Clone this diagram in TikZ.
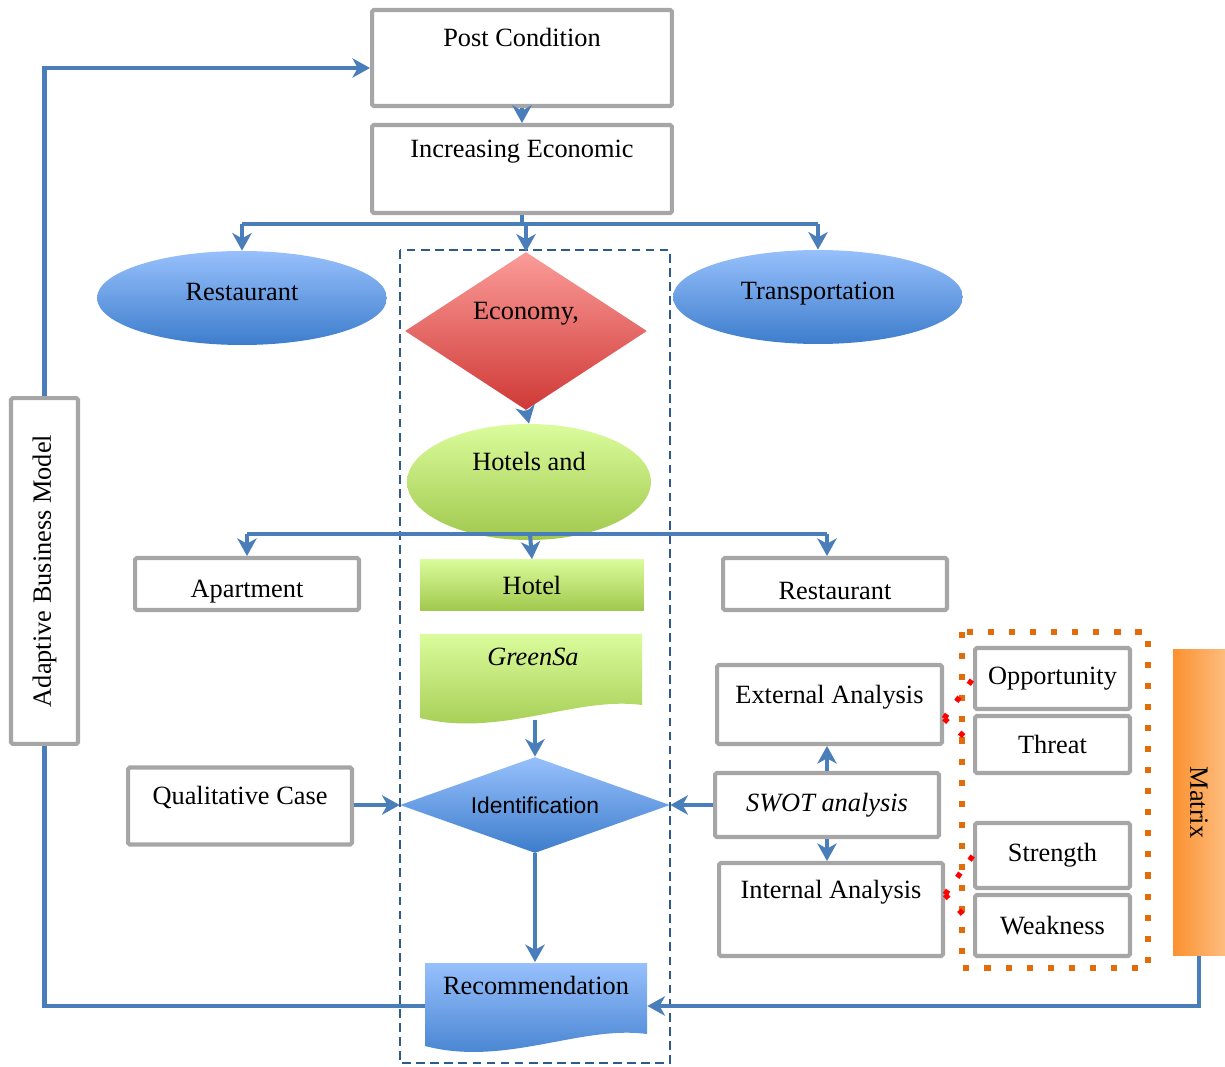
\documentclass[tikz,border=0pt]{standalone}
\usepackage{fontspec}
\setmainfont{Liberation Serif}
\newfontfamily\identfont{Liberation Sans}
\usetikzlibrary{shapes.geometric,arrows.meta}

\definecolor{flowblue}{HTML}{4A7EBB}
\definecolor{boxgrey}{HTML}{A6A6A6}
\definecolor{frameblue}{HTML}{2F5B8C}
\definecolor{dotorange}{HTML}{E36C0A}
\definecolor{bluetop}{HTML}{97C0FC}
\definecolor{bluebot}{HTML}{3D7DCC}
\definecolor{redtop}{HTML}{FB9C99}
\definecolor{redbot}{HTML}{CF3936}
\definecolor{greentop}{HTML}{DBFC9C}
\definecolor{greenbot}{HTML}{A0C84D}
\definecolor{orangeleft}{HTML}{FC9130}
\definecolor{orangeright}{HTML}{FDBC7E}

\tikzset{
  greybox/.style={draw=boxgrey,line width=2.3pt,rounded corners=1pt,fill=white,align=center,inner sep=2pt},
  blueoval/.style={ellipse,top color=bluetop,bottom color=bluebot,inner sep=0pt,align=center},
  greenfill/.style={top color=greentop,bottom color=greenbot},
  bluefill/.style={top color=bluetop,bottom color=bluebot},
  flow/.style={draw=flowblue,line width=2.3pt,-{Stealth[length=10pt,width=11pt,inset=3pt]}},
  link/.style={draw=flowblue,line width=2.3pt},
  swotlink/.style={draw=red,line width=3pt,dash pattern=on 3pt off 9pt},
  uptext/.style={text depth=12pt},
  lowtext/.style={text height=18pt}
}

\begin{document}
\begin{tikzpicture}[x=0.02cm,y=-0.02cm,font=\fontsize{15}{18}\selectfont]
\useasboundingbox (0,0) rectangle (1225,1067);

% top of the chain
\node[greybox,minimum width=6cm,minimum height=1.92cm] (post) at (522,58) {Post Condition\\ \strut};
\node[greybox,minimum width=6cm,minimum height=1.76cm] (inc) at (522,169) {Increasing Economic\\ \strut};

\node[blueoval,text depth=7pt,minimum width=5.8cm,minimum height=1.88cm] (rest1) at (242,298) {Restaurant};
\node[blueoval,text depth=7pt,minimum width=5.8cm,minimum height=1.88cm] (trans) at (818,297) {Transportation};
\node[diamond,top color=redtop,bottom color=redbot,aspect=1.53,inner sep=0pt,
      minimum width=4.84cm,minimum height=3.16cm,align=center] (econ) at (526,331) {Economy,\\ \strut};
\node[ellipse,greenfill,minimum width=4.88cm,minimum height=2.32cm,inner sep=0pt,align=center] (hotels) at (529,482) {Hotels and\\ \strut};

% second row
\node[greybox,lowtext,minimum width=4.48cm,minimum height=1.04cm] (apt) at (247,584) {Apartment};
\node[greenfill,minimum width=4.48cm,minimum height=1.02cm] (hotel) at (532,585) {Hotel};
\node[greybox,lowtext,minimum width=4.48cm,minimum height=1.04cm] (rest2) at (835,584) {Restaurant};

\shade[greenfill] (420,634) -- (642,634) -- (642,705) .. controls (575,696) and (500,738) .. (420,718) -- cycle;
\node[minimum width=4.44cm,minimum height=1.72cm,align=center] (greensa) at (533,677) {\textit{GreenSa}\\ \strut};

% analysis row
\node[diamond,bluefill,aspect=2.8,inner sep=0pt,minimum width=5.4cm,minimum height=1.92cm] (ident) at (535,805) {\identfont\fontsize{13}{15}\selectfont Identification};
\node[greybox,uptext,minimum width=4.48cm,minimum height=1.54cm] (qual) at (240,806) {Qualitative Case};
\node[greybox,minimum width=4.48cm,minimum height=1.28cm] (swot) at (827,805) {\textit{SWOT analysis}};
\node[greybox,uptext,minimum width=4.5cm,minimum height=1.58cm] (ext) at (829.5,704.5) {External Analysis};
\node[greybox,minimum width=4.48cm,minimum height=1.86cm] (int) at (831,909.5) {Internal Analysis\\ \strut};

\draw[dotorange,line width=3.5pt,dash pattern=on 3.5pt off 8.5pt] (962,632) rectangle (1148,968);
\node[greybox,minimum width=3.1cm,minimum height=1.22cm] (opp) at (1052.5,678.5) {Opportunity};
\node[greybox,minimum width=3.1cm,minimum height=1.14cm] (thr) at (1052.5,744.5) {Threat};
\node[greybox,minimum width=3.1cm,minimum height=1.3cm] (str) at (1052.5,855.5) {Strength};
\node[greybox,minimum width=3.1cm,minimum height=1.22cm] (weak) at (1052.5,925.5) {Weakness};

\node[left color=orangeleft,right color=orangeright,minimum width=1.04cm,minimum height=6.14cm] (matrix) at (1199,802.5) {\rotatebox{-90}{Matrix}};
\node[greybox,minimum width=1.34cm,minimum height=6.92cm] (abm) at (44.5,571) {\rotatebox{90}{Adaptive Business Model}};

\shade[bluefill] (425,963) -- (647,963) -- (647,1034) .. controls (580,1025) and (505,1067) .. (425,1046) -- cycle;
\node[minimum width=4.44cm,minimum height=1.74cm,align=center] (rec) at (536,1006) {Recommendation\\ \strut};

\draw[frameblue,line width=1.4pt,dash pattern=on 5pt off 3pt] (400,250) rectangle (670,1063);

% connectors
\coordinate (bus1) at (526,224);
\coordinate (bus2) at (530,534);
\draw[flow] (post.south) -- (inc.north);
\draw[link] (inc.south) -- (inc.south |- bus1);
\draw[link] (rest1 |- bus1) -- (trans |- bus1);
\draw[flow] (rest1 |- bus1) -- (rest1.north);
\draw[flow] (bus1) -- (econ.north);
\draw[flow] (trans |- bus1) -- (trans.north);
\draw[flow] (econ.south) -- (hotels.north);
\draw[link] (apt |- bus2) -- ([xshift=-0.16cm]rest2.north |- bus2);
\draw[flow] (apt |- bus2) -- (apt.north);
\draw[flow] (bus2) -- (hotel.north);
\draw[flow] ([xshift=-0.16cm]rest2.north |- bus2) -- ([xshift=-0.16cm]rest2.north);
\draw[flow] (greensa.south -| ident.north) -- (ident.north);
\draw[flow] (qual.east |- ident.west) -- (ident.west);
\draw[flow] (swot.west) -- (ident.east);
\draw[flow] (swot.north) -- (swot.north |- ext.south);
\draw[flow] (swot.south) -- (swot.south |- int.north);
\draw[flow] (ident.south) -- (ident.south |- rec.north);
\draw[link] (rec.west) -| (abm.south);
\draw[flow] (abm.north) |- ([yshift=-0.2cm]post.west);
\draw[flow] (matrix.south) |- (rec.east);
\draw[swotlink] ([yshift=-0.28cm]ext.east) -- (opp.west);
\draw[swotlink] ([yshift=-0.28cm]ext.east) -- (thr.west);
\draw[swotlink] ([yshift=0.3cm]int.east) -- (str.west);
\draw[swotlink] ([yshift=0.3cm]int.east) -- (weak.west);
\end{tikzpicture}
\end{document}
